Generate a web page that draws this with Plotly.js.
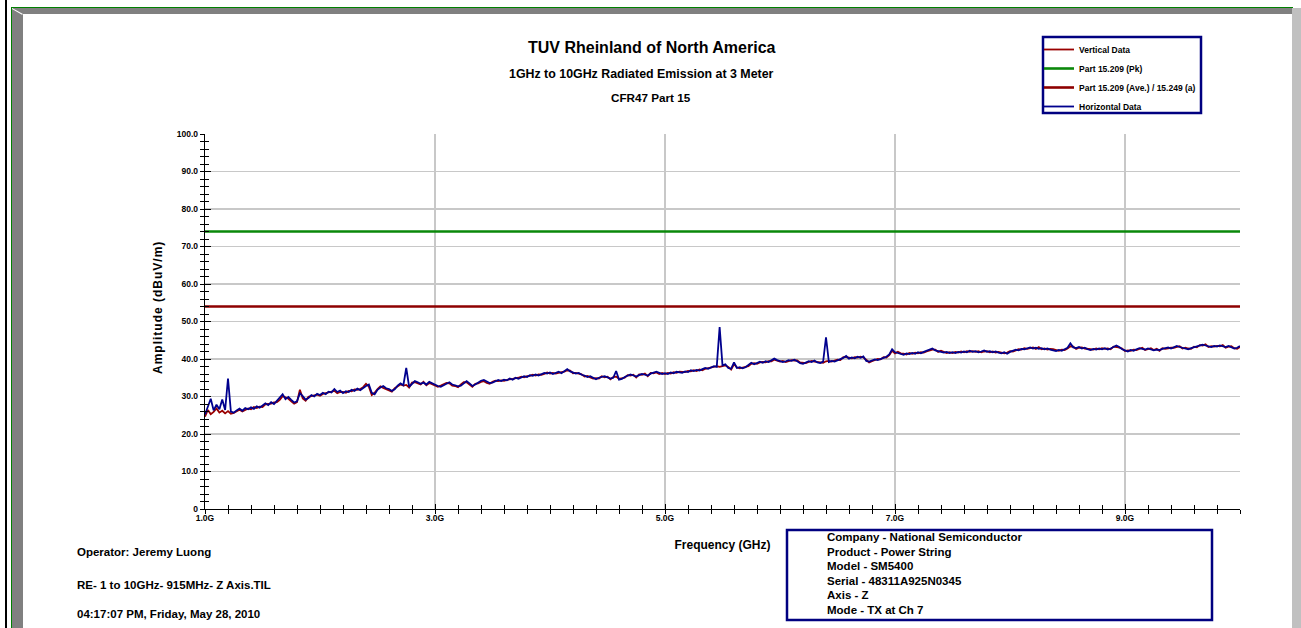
<!DOCTYPE html>
<html>
<head>
<meta charset="utf-8">
<script src="https://cdn.plot.ly/plotly-3.0.1.min.js"></script>
<style>
  html, body { margin: 0; padding: 0; background: #ffffff; width: 1301px; height: 628px; overflow: hidden; }
  #chart { position: absolute; left: 0; top: 0; width: 1301px; height: 628px; }
</style>
</head>
<body>
<div id="chart"></div>
<script>
// ---------------- DATA ----------------
const FREQ_START_GHZ = 1.0;
const FREQ_STEP_GHZ = 0.025;

// Horizontal Data (dBuV/m), 1.0 GHz .. 10.0 GHz
const horizontalData = [
  25.2, 27.5, 29.4, 26.3, 27.8, 26.6, 29.2, 26.4, 34.8, 26.0, 25.7, 26.3, 26.8, 26.2, 26.9, 26.6, 27.1, 26.7, 27.4, 27.0,
  27.6, 28.2, 27.7, 28.5, 28.0, 28.9, 29.6, 30.6, 29.3, 29.9, 29.1, 28.4, 28.7, 30.9, 30.1, 29.2, 29.6, 30.4, 30.0, 30.7,
  30.4, 31.0, 30.6, 31.3, 31.1, 32.0, 31.2, 31.6, 30.9, 31.4, 31.2, 31.8, 31.5, 32.1, 31.7, 32.3, 32.8, 33.2, 31.0, 30.6,
  31.8, 32.4, 32.8, 32.2, 32.0, 31.5, 31.9, 32.9, 33.5, 33.0, 37.6, 32.6, 33.4, 34.1, 33.8, 33.4, 33.7, 33.2, 33.9, 33.5,
  33.3, 32.8, 32.6, 33.1, 33.4, 33.8, 33.2, 33.0, 32.7, 32.9, 33.6, 34.1, 33.5, 32.8, 33.2, 33.7, 34.2, 34.4, 33.9, 33.6,
  33.7, 34.0, 34.4, 34.1, 34.5, 34.3, 34.8, 34.5, 35.0, 34.7, 35.1, 35.4, 35.2, 35.7, 35.5, 35.9, 35.6, 36.0, 36.3, 36.1,
  36.4, 36.0, 36.3, 36.6, 36.2, 36.8, 37.3, 36.7, 36.5, 36.1, 36.3, 35.8, 35.6, 35.2, 35.4, 34.9, 34.6, 35.0, 35.2, 35.4,
  35.1, 34.8, 35.0, 36.8, 34.5, 34.7, 35.2, 35.5, 35.9, 35.6, 35.3, 35.7, 36.0, 35.8, 35.6, 36.1, 36.4, 36.6, 36.3, 36.0,
  36.2, 36.0, 36.4, 36.2, 36.6, 36.4, 36.3, 36.7, 36.5, 37.0, 36.8, 37.1, 36.9, 37.3, 37.6, 37.4, 37.8, 38.1, 37.9, 48.5,
  38.3, 38.6, 37.6, 37.4, 39.1, 37.6, 37.8, 37.5, 37.8, 38.3, 39.0, 38.6, 38.9, 39.3, 39.0, 39.4, 39.2, 39.6, 40.1, 39.7,
  39.5, 39.2, 39.4, 39.7, 39.5, 39.8, 39.4, 38.9, 38.7, 39.1, 39.4, 39.2, 39.6, 39.1, 38.9, 39.3, 45.8, 39.2, 39.5, 39.3,
  39.6, 39.9, 40.3, 40.8, 40.1, 40.4, 40.2, 40.6, 40.3, 40.7, 39.5, 39.3, 39.6, 39.9, 39.7, 40.1, 40.3, 40.6, 41.2, 42.6,
  41.8, 41.6, 41.3, 41.1, 41.5, 41.3, 41.6, 41.4, 41.8, 41.5, 41.9, 42.2, 42.5, 42.8, 42.3, 42.1, 42.0, 41.7, 41.9, 41.6,
  41.8, 41.6, 41.9, 41.7, 42.0, 41.8, 42.2, 41.9, 42.1, 41.8, 42.0, 42.3, 41.9, 42.1, 41.8, 42.0, 41.7, 41.5, 41.8, 41.4,
  41.9, 42.2, 42.5, 42.3, 42.7, 42.6, 42.9, 43.1, 42.8, 43.0, 42.7, 42.9, 42.6, 42.8, 42.5, 42.3, 42.1, 42.4, 42.2, 42.6,
  43.0, 44.2, 43.1, 42.9, 43.2, 42.8, 43.0, 42.6, 42.4, 42.7, 42.5, 42.8, 42.6, 42.9, 42.5, 42.8, 43.1, 43.6, 43.2, 42.6,
  42.3, 42.0, 42.4, 42.2, 42.6, 42.9, 42.7, 42.5, 42.8, 42.6, 42.3, 42.5, 42.4, 42.7, 42.9, 43.1, 42.8, 43.2, 43.5, 43.2,
  43.0, 42.8, 42.6, 42.9, 43.1, 43.3, 43.5, 43.8, 43.6, 43.4, 43.2, 43.5, 43.3, 43.6, 43.4, 43.2, 43.5, 43.1, 42.8, 43.0,
  43.5
];

// Vertical Data (dBuV/m), 1.0 GHz .. 10.0 GHz
const verticalData = [
  24.6, 26.4, 25.3, 25.9, 26.8, 25.7, 26.2, 25.5, 26.1, 25.4, 25.6, 26.0, 26.5, 26.0, 26.4, 26.8, 26.6, 27.2, 26.9, 27.3,
  27.2, 27.9, 28.0, 28.1, 28.4, 28.5, 29.1, 30.1, 29.8, 29.4, 28.7, 28.1, 28.5, 31.8, 29.5, 28.9, 29.9, 30.0, 30.3, 30.5,
  30.2, 30.7, 30.9, 31.0, 31.4, 31.5, 30.9, 31.2, 31.2, 31.0, 31.5, 31.4, 31.9, 31.8, 32.0, 32.5, 33.4, 32.6, 30.4, 31.0,
  32.0, 32.7, 32.3, 32.0, 31.7, 31.3, 32.2, 32.6, 33.2, 32.9, 33.1, 32.4, 33.7, 33.8, 33.5, 33.2, 33.9, 33.0, 33.6, 33.3,
  33.0, 32.6, 32.9, 33.3, 33.6, 33.5, 32.9, 32.8, 32.5, 33.2, 33.8, 33.8, 33.2, 32.6, 33.4, 33.5, 33.9, 34.1, 33.6, 33.4,
  33.9, 34.2, 34.1, 34.3, 34.2, 34.5, 34.6, 34.7, 34.8, 35.0, 35.3, 35.1, 35.4, 35.5, 35.8, 35.6, 35.9, 35.8, 36.0, 36.4,
  36.1, 36.3, 36.1, 36.4, 36.5, 36.6, 37.0, 36.9, 36.2, 36.3, 36.0, 35.9, 35.3, 35.5, 35.1, 34.8, 34.9, 34.8, 35.4, 35.1,
  35.3, 34.6, 35.2, 35.3, 34.7, 34.9, 35.0, 35.7, 35.6, 35.8, 35.1, 35.9, 35.8, 36.1, 35.4, 36.3, 36.2, 36.4, 36.0, 36.3,
  36.0, 36.3, 36.1, 36.5, 36.3, 36.6, 36.5, 36.5, 36.8, 36.7, 37.0, 36.8, 37.2, 37.0, 37.4, 37.6, 37.6, 37.8, 38.1, 37.9,
  38.0, 38.3, 37.9, 37.2, 38.6, 37.8, 37.5, 37.7, 38.0, 38.1, 38.7, 38.9, 38.7, 39.1, 39.2, 39.1, 39.4, 39.4, 39.8, 39.5,
  39.3, 39.5, 39.2, 39.4, 39.7, 39.6, 39.6, 39.1, 38.9, 38.9, 39.2, 39.5, 39.3, 39.3, 39.1, 39.0, 39.4, 39.5, 39.3, 39.6,
  39.8, 39.7, 40.5, 40.5, 40.3, 40.2, 40.5, 40.4, 40.6, 40.4, 39.8, 39.1, 39.4, 39.8, 40.0, 39.9, 40.5, 40.4, 41.0, 42.2,
  41.5, 41.9, 41.5, 41.4, 41.2, 41.6, 41.4, 41.7, 41.5, 41.8, 41.7, 42.0, 42.3, 42.5, 42.5, 41.9, 42.2, 41.9, 41.6, 41.8,
  41.6, 41.9, 41.7, 42.0, 41.8, 42.1, 41.9, 42.1, 41.9, 42.1, 41.8, 42.0, 42.1, 41.8, 42.0, 41.7, 41.9, 41.7, 41.5, 41.7,
  42.1, 42.0, 42.3, 42.6, 42.5, 42.9, 42.7, 42.8, 43.1, 42.7, 43.2, 42.6, 42.8, 42.5, 42.7, 42.6, 42.3, 42.2, 42.5, 42.4,
  42.8, 43.4, 43.3, 42.7, 43.0, 43.1, 42.8, 42.8, 42.6, 42.5, 42.8, 42.6, 42.9, 42.7, 42.8, 42.6, 43.3, 43.2, 42.9, 42.8,
  42.1, 42.3, 42.2, 42.5, 42.4, 42.7, 43.0, 42.4, 42.6, 42.9, 42.4, 42.7, 42.2, 42.9, 42.7, 42.9, 43.0, 43.0, 43.3, 43.4,
  42.8, 43.0, 42.8, 42.7, 43.3, 43.1, 43.7, 43.6, 43.9, 43.2, 43.4, 43.3, 43.5, 43.4, 43.7, 43.0, 43.3, 43.4, 42.9, 42.7,
  43.2
];

// Limit lines
const limitFreq = [1.0, 10.0];
const limitPk = [74.0, 74.0];
const limitAve = [54.0, 54.0];

// Axes
const xTickVals = [1, 3, 5, 7, 9];
const xTickText = ['1.0G', '3.0G', '5.0G', '7.0G', '9.0G'];
const yTickVals = [0, 10, 20, 30, 40, 50, 60, 70, 80, 90, 100];
const yTickText = ['0', '10.0', '20.0', '30.0', '40.0', '50.0', '60.0', '70.0', '80.0', '90.0', '100.0'];

// Texts
const titleMain = 'TUV Rheinland of North America';
const titleSub1 = '1GHz to 10GHz Radiated Emission at 3 Meter';
const titleSub2 = 'CFR47 Part 15';
const xTitle = 'Frequency (GHz)';
const yTitle = 'A\u200Am\u200Ap\u200Al\u200Ai\u200At\u200Au\u200Ad\u200Ae\u200A \u200A(\u200Ad\u200AB\u200Au\u200AV\u200A/\u200Am\u200A)';
const seriesNames = ['Vertical Data', 'Part 15.209 (Pk)', 'Part 15.209 (Ave.) / 15.249 (a)', 'Horizontal Data'];
const footerLeft = ['Operator: Jeremy Luong', 'RE- 1 to 10GHz- 915MHz- Z Axis.TIL', '04:17:07 PM, Friday, May 28, 2010'];
const infoLines = ['Company - National Semiconductor', 'Product - Power String', 'Model - SM5400',
                   'Serial - 48311A925N0345', 'Axis - Z', 'Mode - TX at Ch 7'];

// ---------------- LAYOUT ----------------
const FONT = '"Liberation Sans", Arial, sans-serif';
const W = 1301, H = 628;
const M = { l: 205, r: 61, t: 134, b: 119 };
const PW = W - M.l - M.r, PH = H - M.t - M.b;
const px = x => (x - M.l) / PW;
const py = y => (H - M.b - y) / PH;

const traces = [
  { x0: FREQ_START_GHZ, dx: FREQ_STEP_GHZ, y: verticalData, name: seriesNames[0], type: 'scatter', mode: 'lines',
    line: { color: '#9a0000', width: 1.8 }, xaxis: 'x', yaxis: 'y' },
  { x: limitFreq, y: limitPk, name: seriesNames[1], type: 'scatter', mode: 'lines',
    line: { color: '#0a880a', width: 2.6 }, xaxis: 'x2', yaxis: 'y2' },
  { x: limitFreq, y: limitAve, name: seriesNames[2], type: 'scatter', mode: 'lines',
    line: { color: '#8e0000', width: 2.6 }, xaxis: 'x2', yaxis: 'y2' },
  { x0: FREQ_START_GHZ, dx: FREQ_STEP_GHZ, y: horizontalData, name: seriesNames[3], type: 'scatter', mode: 'lines',
    line: { color: '#00008e', width: 1.8 }, xaxis: 'x', yaxis: 'y' }
];

const tickFont = { family: FONT, size: 8.5, color: '#000', weight: 'bold' };

const annotations = [];
function addText(text, x, y, size, anchor, angle) {
  annotations.push({ text: text, xref: 'paper', yref: 'paper', x: px(x), y: py(y),
    xanchor: anchor, yanchor: 'middle', showarrow: false, textangle: angle || 0,
    font: { family: FONT, size: size, color: '#000', weight: 'bold' } });
}
addText(titleMain, 652, 47, 16, 'center');
addText(titleSub1, 641, 74, 12.4, 'center');
addText(titleSub2, 651, 98, 11.7, 'center');
addText(yTitle, 158, 308, 12, 'center', -90);
const footerY = [552, 585, 614];
footerLeft.forEach((t, i) => addText(t, 75, footerY[i], 11.5, 'left'));
const infoY = [537, 551.5, 566, 580.5, 595, 610];
infoLines.forEach((t, i) => addText(t, 825, infoY[i], 11.5, 'left'));

// page frame (decoration, in paper coordinates built from pixel positions)
function pRect(x0, y0, x1, y1, color) {
  return { type: 'rect', xref: 'paper', yref: 'paper', x0: px(x0), x1: px(x1), y0: py(y1), y1: py(y0),
           line: { width: 0 }, fillcolor: color, layer: 'above' };
}
function pPath(points, color) {
  const d = points.map((p, i) => (i ? 'L' : 'M') + px(p[0]) + ',' + py(p[1])).join(' ') + ' Z';
  return { type: 'path', xref: 'paper', yref: 'paper', path: d, line: { width: 0 }, fillcolor: color, layer: 'above' };
}
const frameShapes = [
  pRect(5, 0, 7, 628, '#000000'),
  pRect(11, 7, 1293, 8, '#008000'),
  pRect(11, 7, 12, 628, '#008000'),
  pPath([[12, 8], [1292, 8], [1292, 14], [23, 14], [23, 628], [12, 628]], '#808080'),
  pPath([[1292, 8], [1301, 8], [1301, 628], [1292, 628]], '#c0c0c0'),
  pPath([[12, 8], [23, 14], [22, 14.8], [12, 9]], '#ffffff')
];

const layout = {
  width: W, height: H,
  margin: M,
  paper_bgcolor: '#ffffff',
  plot_bgcolor: '#ffffff',
  showlegend: true,
  legend: {
    x: px(1039), y: py(35), xanchor: 'left', yanchor: 'top',
    borderwidth: 0, bgcolor: 'rgba(0,0,0,0)',
    font: { family: FONT, size: 8.5, color: '#000', weight: 'bold' },
    itemwidth: 30, tracegroupgap: 0
  },
  xaxis: {
    range: [1, 10], tickmode: 'array', tickvals: xTickVals, ticktext: xTickText,
    ticks: 'outside', ticklen: 4, tickwidth: 1, tickcolor: '#000', ticklabelstandoff: -3,
    showline: true, linecolor: '#000', linewidth: 1.2,
    showgrid: true, gridcolor: '#c8c8c8', gridwidth: 1.2, zeroline: false,
    tickfont: tickFont,
    minor: { tickmode: 'linear', tick0: 1, dtick: 0.2, ticks: 'outside', ticklen: 4, tickwidth: 1, tickcolor: '#000', showgrid: false },
    title: { text: xTitle, font: { family: FONT, size: 12, color: '#000', weight: 'bold' }, standoff: 18 },
    fixedrange: true
  },
  yaxis: {
    range: [0, 100], tickmode: 'array', tickvals: yTickVals, ticktext: yTickText,
    ticks: 'outside', ticklen: 4, tickwidth: 1, tickcolor: '#000',
    showline: true, linecolor: '#000', linewidth: 1.2,
    showgrid: true, gridcolor: '#c8c8c8', gridwidth: 1.2, zeroline: false,
    tickfont: tickFont,
    minor: { tickmode: 'linear', tick0: 0, dtick: 2, ticks: 'outside', ticklen: 4, tickwidth: 1, tickcolor: '#000', showgrid: false },
    fixedrange: true
  },
  xaxis2: {
    overlaying: 'x', anchor: 'y2', side: 'bottom', range: [1, 10],
    tickmode: 'array', tickvals: xTickVals, ticks: 'inside', ticklen: 5, tickwidth: 1, tickcolor: '#000',
    showticklabels: false, showgrid: false, zeroline: false, showline: false,
    minor: { tickmode: 'linear', tick0: 1, dtick: 0.2, ticks: 'inside', ticklen: 4, tickwidth: 1, tickcolor: '#000', showgrid: false },
    fixedrange: true
  },
  yaxis2: {
    overlaying: 'y', anchor: 'x2', side: 'left', range: [0, 100],
    tickmode: 'array', tickvals: yTickVals, ticks: 'inside', ticklen: 6, tickwidth: 1, tickcolor: '#000',
    showticklabels: false, showgrid: false, zeroline: false, showline: false,
    minor: { tickmode: 'linear', tick0: 0, dtick: 2, ticks: 'inside', ticklen: 4, tickwidth: 1, tickcolor: '#000', showgrid: false },
    fixedrange: true
  },
  shapes: frameShapes.concat([
    { type: 'rect', xref: 'paper', yref: 'paper', x0: px(1043), x1: px(1201), y0: py(113), y1: py(37),
      line: { color: '#000080', width: 2.5 }, fillcolor: 'rgba(0,0,0,0)', layer: 'above' },
    { type: 'rect', xref: 'paper', yref: 'paper', x0: px(787), x1: px(1212), y0: py(620), y1: py(530),
      line: { color: '#000080', width: 2.5 }, fillcolor: 'rgba(0,0,0,0)', layer: 'above' }
  ]),
  annotations: annotations
};

Plotly.newPlot('chart', traces, layout, { displayModeBar: false, staticPlot: true });
</script>
</body>
</html>
